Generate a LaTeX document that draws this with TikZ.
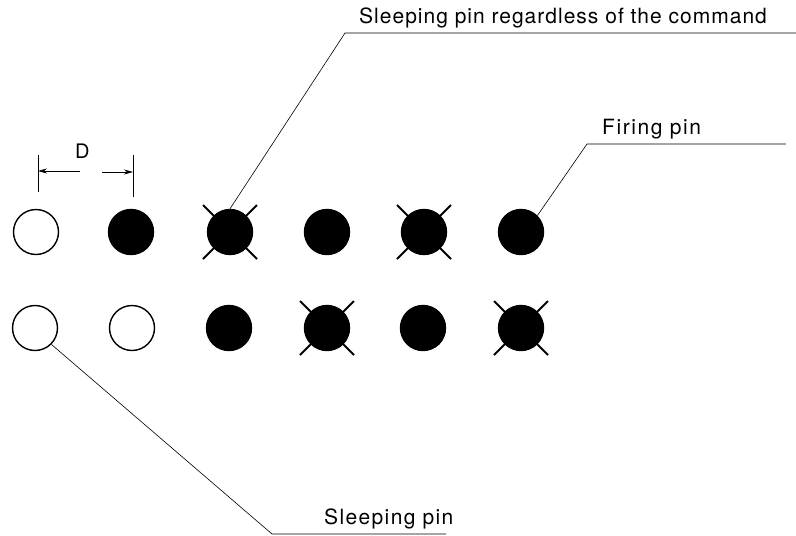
\documentclass[tikz,border=0pt]{standalone}
\usepackage{fontspec}
\setmainfont{TeX Gyre Heros}
\newfontfamily\lblA[LetterSpace=4.8]{TeX Gyre Heros}
\newfontfamily\lblB[LetterSpace=7.5]{TeX Gyre Heros}
\newfontfamily\lblC[LetterSpace=6.5]{TeX Gyre Heros}
\usetikzlibrary{arrows.meta}
\begin{document}
\begin{tikzpicture}[x=1pt,y=-1pt,
  pin/.style={circle,draw=black,line width=1.4pt,minimum size=45pt,inner sep=0pt},
  fired/.style={pin,fill=black},
  idle/.style={pin,fill=white},
  leader/.style={line width=0.6pt},
  label/.style={anchor=base west,inner sep=0pt},
  crossline/.style={line width=1.8pt},
  dimtick/.style={line width=0.8pt},
  dimarrow/.style={line width=0.6pt,-{Stealth[length=9pt,width=5pt]}}]
\useasboundingbox (0,0) rectangle (796,536);

% crosses behind the pins that never fire
\foreach \x/\y in {230/232, 424/232, 327/328, 521/328}{
  \draw[crossline] (\x-27,\y-27) -- (\x+27,\y+27);
  \draw[crossline] (\x-27,\y+27) -- (\x+27,\y-27);
}

% upper row of pins
\node[idle]  (p11) at (36,232) {};
\node[fired] (p12) at (131,232) {};
\node[fired] (p13) at (230,232) {};
\node[fired] (p14) at (327,232) {};
\node[fired] (p15) at (424,232) {};
\node[fired] (p16) at (521,232) {};

% lower row of pins
\node[idle]  (p21) at (35,328) {};
\node[idle]  (p22) at (132,328) {};
\node[fired] (p23) at (229,328) {};
\node[fired] (p24) at (327,328) {};
\node[fired] (p25) at (423,328) {};
\node[fired] (p26) at (521,328) {};

% pitch dimension D
\coordinate (t1a) at (38,155);
\coordinate (t1b) at (38,192);
\coordinate (t2a) at (133,155);
\coordinate (t2b) at (133,197);
\draw[dimtick] (t1a) -- (t1b);
\draw[dimtick] (t2a) -- (t2b);
\coordinate (d1) at (80,171);
\coordinate (d1e) at (38,171);
\coordinate (d2) at (102,172);
\coordinate (d2e) at (133,172);
\draw[dimarrow] (d1) -- (d1e);
\draw[dimarrow] (d2) -- (d2e);
\node[label,font=\fontsize{20}{24}\selectfont] (dim) at (75,158) {D};

% labels and leader lines
\coordinate (k1) at (345,33);
\coordinate (e1) at (796,33);
\node[label,font=\lblA\fontsize{21}{24}\selectfont] (l1) at (359,23) {Sleeping pin regardless of the command};
\draw[leader] (p13.north) -- (k1) -- (e1);

\coordinate (k2) at (587,144);
\coordinate (e2) at (786,144);
\node[label,font=\lblB\fontsize{21}{24}\selectfont] (l2) at (602,134) {Firing pin};
\draw[leader] (p16.north east) -- (k2) -- (e2);

\coordinate (k3) at (272,534);
\coordinate (e3) at (446,534);
\node[label,font=\lblC\fontsize{21}{24}\selectfont] (l3) at (324,524) {Sleeping pin};
\draw[leader] (p21.south east) -- (k3) -- (e3);
\end{tikzpicture}
\end{document}
